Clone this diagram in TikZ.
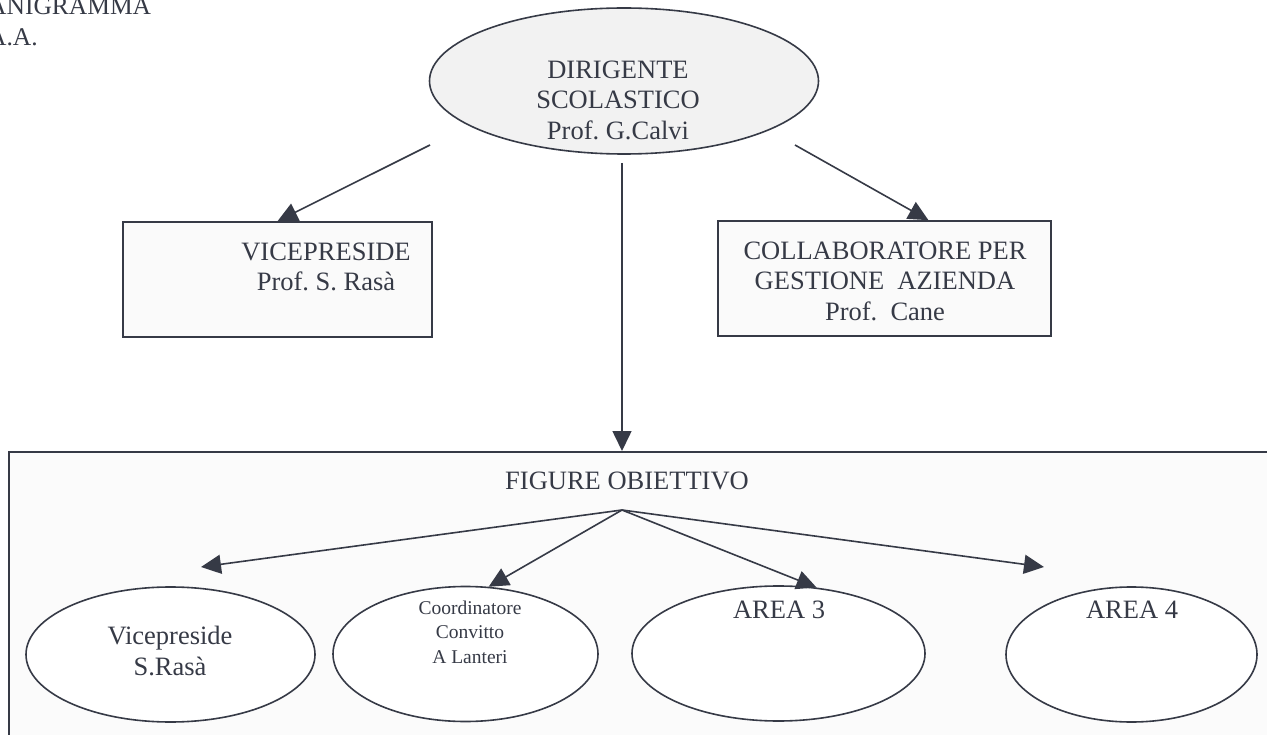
\documentclass[tikz,border=0pt]{standalone}
\usepackage{fontspec}
\setmainfont{Liberation Serif}
\usetikzlibrary{shapes.geometric,arrows.meta,positioning}
\definecolor{ink}{RGB}{54,58,70}
\definecolor{headfill}{RGB}{242,242,242}
\definecolor{boxfill}{RGB}{250,250,250}
\definecolor{panelfill}{RGB}{251,251,251}
\frenchspacing

\begin{document}
\begin{tikzpicture}[x=1pt, y=-1pt,
    every node/.style={text=ink, font=\fontsize{26.5}{30.5}\selectfont},
    head/.style={ellipse, draw=ink, line width=1.6pt, fill=headfill, minimum width=389, minimum height=146},
    role/.style={rectangle, draw=ink, line width=1.6pt, fill=boxfill, minimum width=309, minimum height=115},
    panel/.style={rectangle, draw=ink, line width=1.6pt, fill=panelfill, inner sep=0pt, anchor=north west},
    area/.style={ellipse, draw=ink, line width=1.6pt, fill=white, minimum height=135},
    txt/.style={align=center, inner sep=0pt},
    small/.style={font=\fontsize{19.5}{24.5}\selectfont},
    arrow/.style={-{Triangle[length=20pt,width=19pt]}, draw=ink, line width=1.6pt}
]
\useasboundingbox (0,0) rectangle (1267,735);

% Title
\node[anchor=north west, align=left, inner sep=0pt, font=\fontsize{25.5}{31.5}\selectfont] at (-12,-3) (title) {ANIGRAMMA\\A.A.};

% Dirigente and collaboratori
\node[head] at (624,81) (ds) {};
\node[role] at (277.5,279.5) (vice) {};
\node[role, minimum width=333] at (884.5,278.5) (collab) {};

\node[txt] at (618,100) (dsText) {DIRIGENTE\\SCOLASTICO\\Prof. G.Calvi};
\node[txt] at (326,267) (viceText) {VICEPRESIDE\\Prof. S. Rasà};
\node[txt] at (885,281) (collabText) {COLLABORATORE PER\\GESTIONE~~AZIENDA\\Prof.~~Cane};

% Figure obiettivo
\node[panel, minimum width=1300, minimum height=320] at (8,451) (fo) {};
\node[txt] at (627,481) (fig) {FIGURE OBIETTIVO};
\coordinate (hub) at (622,510);

\node[area, minimum width=289] at (170.5,654.5) (e1) {};
\node[area, minimum width=265] at (465.5,654) (e2) {};
\node[area, minimum width=293] at (778.5,653.5) (e3) {};
\node[area, minimum width=251] at (1131.5,654.5) (e4) {};

\node[txt] at (170,651) (e1Text) {Vicepreside\\S.Rasà};
\node[txt, small] at (470,632) (e2Text) {Coordinatore\\Convitto\\A Lanteri};
\node[txt] at (779,610) (e3Text) {AREA 3};
\node[txt] at (1132,610) (e4Text) {AREA 4};

% Arrows
\coordinate (dsL) at (430,145);
\coordinate (dsR) at (795,145);
\coordinate (dsB) at (622,163);
\coordinate (t1) at (201,567);
\coordinate (t4) at (1044,567);

\draw[arrow] (dsL) -- (vice.north);
\draw[arrow] (dsR) -- (collab.53);
\draw[arrow] (dsB) -- (dsB |- fo.north);
\draw[arrow] (hub) -- (t1);
\draw[arrow] (hub) -- (e2.71);
\draw[arrow] (hub) -- (e3.60);
\draw[arrow] (hub) -- (t4);

\end{tikzpicture}
\end{document}
